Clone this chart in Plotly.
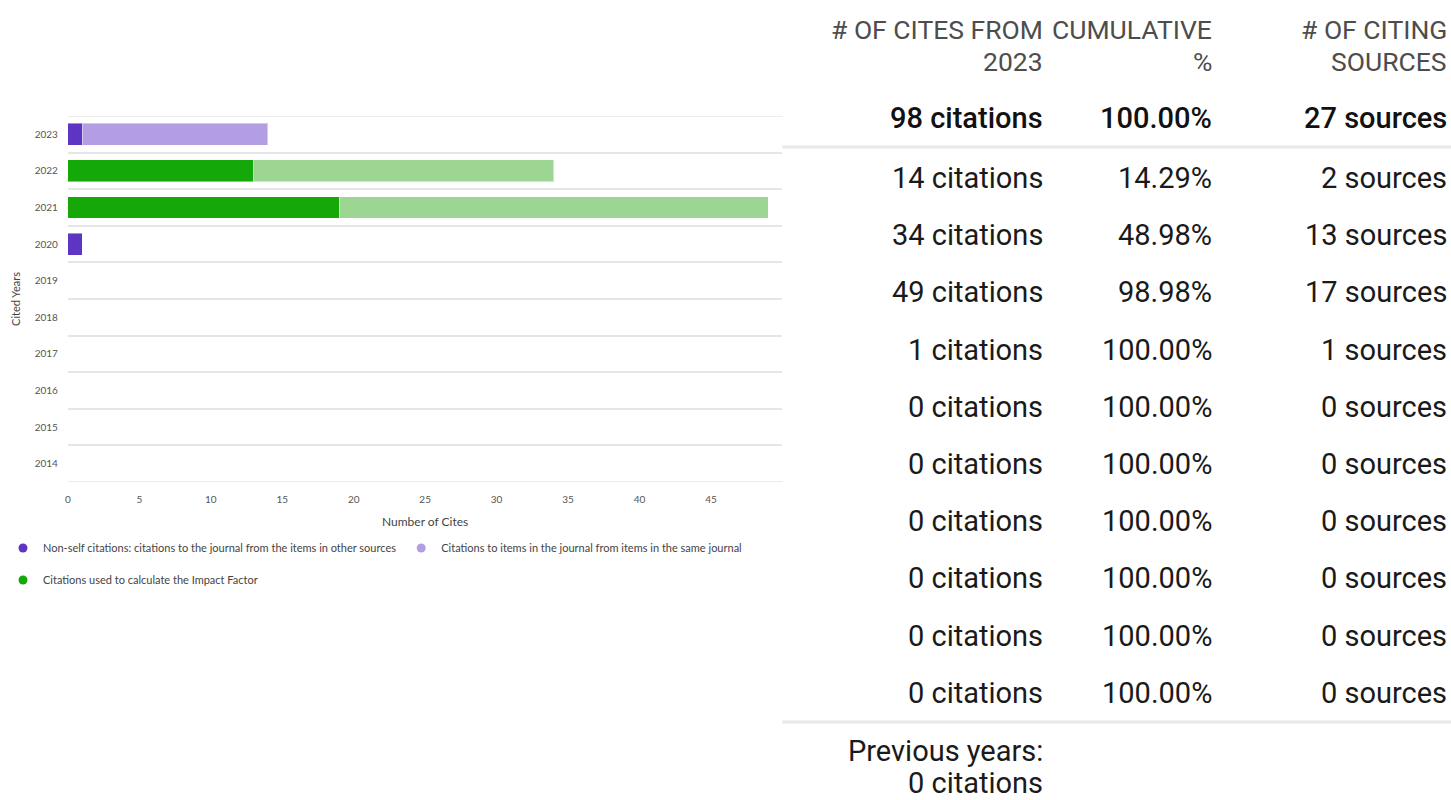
import plotly.graph_objects as go

# ---------------- data ----------------
years = ["2023", "2022", "2021", "2020", "2019", "2018", "2017", "2016", "2015", "2014"]
dark_part = [1, 13, 19, 1, 0, 0, 0, 0, 0, 0]      # non-self / IF citations
light_part = [13, 21, 30, 0, 0, 0, 0, 0, 0, 0]    # self citations
if_years = ["2022", "2021"]

legend_names = [
    "Non-self citations: citations to the journal from the items in other sources",
    "Citations to items in the journal from items in the same journal",
    "Citations used to calculate the Impact Factor",
]

x_ticks = [0, 5, 10, 15, 20, 25, 30, 35, 40, 45]

headers = [["# OF CITES FROM", "2023"], ["CUMULATIVE", "%"], ["# OF CITING", "SOURCES"]]
total_row = ["98 citations", "100.00%", "27 sources"]
cites = [14, 34, 49, 1, 0, 0, 0, 0, 0, 0]
cumulative = ["14.29%", "48.98%", "98.98%", "100.00%", "100.00%",
              "100.00%", "100.00%", "100.00%", "100.00%", "100.00%"]
sources = [2, 13, 17, 1, 0, 0, 0, 0, 0, 0]
previous_cites = 0

# ---------------- styles ----------------
PURPLE = "#5E35C3"
LPURPLE = "#B39DE3"
GREEN = "#14A808"
LGREEN = "#9DD592"
GRID = "#E6E6E6"
W, H = 1451, 800
CHART_FONT = "Lato"
TABLE_FONT = "Roboto"


def px_x(p):
    return p / W


def px_y(p):
    return 1 - p / H


dark_colors = [GREEN if y in if_years else PURPLE for y in years]
light_colors = [LGREEN if y in if_years else LPURPLE for y in years]

fig = go.Figure()
fig.add_trace(go.Bar(
    x=dark_part, y=years, orientation="h", showlegend=False,
    marker=dict(color=dark_colors,
                line=dict(color="rgba(255,255,255,0.45)",
                          width=[1 if v else 0 for v in dark_part])),
    hoverinfo="skip",
))
fig.add_trace(go.Bar(
    x=light_part, y=years, orientation="h", showlegend=False,
    marker=dict(color=light_colors,
                line=dict(color="rgba(255,255,255,0.45)",
                          width=[1 if v else 0 for v in light_part])),
    hoverinfo="skip",
))

legend_colors = [PURPLE, LPURPLE, GREEN]
legend_refs = ["legend", "legend", "legend2"]
for name, col, lg in zip(legend_names, legend_colors, legend_refs):
    fig.add_trace(go.Scatter(
        x=[None], y=[None], mode="markers", name=name, legend=lg,
        marker=dict(color=col, size=9, symbol="circle"),
    ))

n = len(years)
fig.update_layout(
    width=W, height=H,
    margin=dict(l=0, r=0, t=0, b=0),
    paper_bgcolor="white", plot_bgcolor="white",
    barmode="stack", bargap=0.4,
    font=dict(family=CHART_FONT, size=10, color="#555555"),
    xaxis=dict(
        domain=[px_x(65), px_x(781)], range=[0, 50],
        tickvals=x_ticks, showgrid=False, zeroline=False, showline=False,
        ticks="", tickfont=dict(size=10, color="#555555"), ticklabelstandoff=10,
        title=dict(text="Number of Cites", font=dict(size=12, color="#444444"), standoff=13),
    ),
    yaxis=dict(
        domain=[px_y(482), px_y(116)], type="category",
        categoryorder="array", categoryarray=years,
        range=[n - 0.5, -0.5],
        tickson="boundaries", showgrid=True, gridcolor=GRID, gridwidth=1.5,
        ticks="", zeroline=False, showline=False,
        tickfont=dict(size=10, color="#555555"), ticklabelstandoff=9,
        title=dict(text="Cited Years", font=dict(size=11, color="#444444"), standoff=11),
    ),
    legend=dict(
        orientation="h", x=0, y=px_y(548), xanchor="left", yanchor="middle",
        font=dict(size=11, color="#444444", family=CHART_FONT),
        bgcolor="rgba(0,0,0,0)", itemclick=False, traceorder="normal",
    ),
    legend2=dict(
        orientation="h", x=0, y=px_y(580), xanchor="left", yanchor="middle",
        font=dict(size=11, color="#444444", family=CHART_FONT),
        bgcolor="rgba(0,0,0,0)", itemclick=False, traceorder="normal",
    ),
)

# edge gridlines (top and bottom category boundaries)
for edge in (-0.5, n - 0.5):
    fig.add_shape(type="line", xref="x domain", yref="y", x0=0, x1=1, y0=edge, y1=edge,
                  line=dict(color=GRID, width=1.5), layer="below")

# ---------------- table (right side) ----------------
col_right = [px_x(1044), px_x(1214), px_x(1449)]
header_lines_y = [30, 61]
total_y = 118
row0_y = 178
row_step = 57.2
prev_lines_y = [751, 783]
VAL_SIZE = 29
HEAD_SIZE = 26.5


def add_text(x, y, text, size, color, weight=400):
    fig.add_annotation(
        x=x, y=y, xref="paper", yref="paper", xanchor="right", yanchor="middle",
        align="right", showarrow=False, text=text,
        font=dict(family=TABLE_FONT, size=size, color=color, weight=weight),
    )


for c, lines in enumerate(headers):
    for ly, t in zip(header_lines_y, lines):
        add_text(col_right[c], px_y(ly), t, HEAD_SIZE, "#4D4D4D")
for c, t in enumerate(total_row):
    add_text(col_right[c], px_y(total_y), t, VAL_SIZE, "#111111", 500)
for i in range(len(cites)):
    yy = px_y(row0_y + i * row_step)
    add_text(col_right[0], yy, f"{cites[i]} citations", VAL_SIZE, "#1A1A1A")
    add_text(col_right[1], yy, cumulative[i], VAL_SIZE, "#1A1A1A")
    add_text(col_right[2], yy, f"{sources[i]} sources", VAL_SIZE, "#1A1A1A")
prev_lines = ["Previous years:", f"{previous_cites} citations"]
for ly, t in zip(prev_lines_y, prev_lines):
    add_text(col_right[0], px_y(ly), t, VAL_SIZE, "#1A1A1A")

for sep in (147, 722):
    fig.add_shape(type="line", xref="paper", yref="paper",
                  x0=px_x(781), x1=1, y0=px_y(sep), y1=px_y(sep),
                  line=dict(color="#E8E8E8", width=3))

fig.write_html("out.html", config={"displayModeBar": False},
               post_script="document.body.style.margin='0';")
